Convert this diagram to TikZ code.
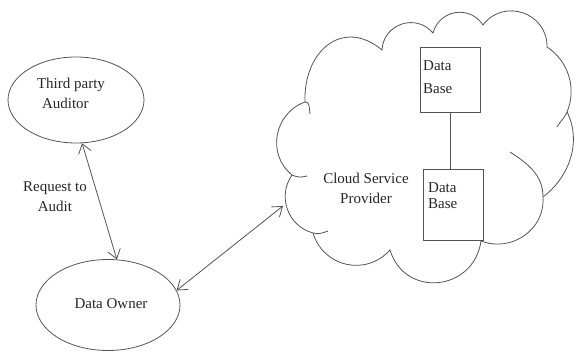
\documentclass[tikz,border=0pt]{standalone}
\usepackage{fontspec}
\setmainfont{Liberation Serif}
\usetikzlibrary{shapes.geometric,arrows.meta}
\definecolor{lc}{gray}{0.33}
\definecolor{tc}{gray}{0.15}
\tikzset{
  cl/.style={draw=lc, line width=0.8pt},
  ell/.style={ellipse, draw=lc, line width=0.8pt, inner sep=0pt},
  txt/.style={text=tc, font=\fontsize{15}{20}\selectfont, inner sep=0pt, align=center},
  dbox/.style={draw=lc, line width=0.8pt, minimum width=60pt, inner sep=0pt},
  dtxt/.style={text=tc, font=\fontsize{15}{20}\selectfont, inner sep=0pt, align=left, anchor=north west},
  arr/.style={draw=lc, line width=0.8pt, {Straight Barb[length=9pt,width=13pt]}-{Straight Barb[length=9pt,width=13pt]}}
}
\begin{document}
\begin{tikzpicture}[x=1pt,y=1pt]
\useasboundingbox (0,0) rectangle (576,352);
% ellipses
\node[ell, minimum width=136pt, minimum height=86pt] (aud) at (76,252) {};
\node[txt, align=left] (audt) at (71,259) {Third party\\\hspace*{5pt}Auditor};
\node[ell, minimum width=144pt, minimum height=91pt] (own) at (108,47) {};
\node[txt] (ownt) at (111,48) {Data Owner};
\node[txt] (req) at (55,155) {Request to\\Audit};
% cloud
\draw[cl] (292,177) coordinate (cA)
 to[out=141,in=200,looseness=1.14] (305,250) coordinate (cB)
 to[out=92,in=140,looseness=1.4] (382,302) coordinate (cC)
 to[out=87,in=130,looseness=1.25] (433,319) coordinate (cD)
 to[out=75,in=123,looseness=1.22] (483,327) coordinate (cE)
 to[out=53,in=89,looseness=1.3] (547,305) coordinate (cF)
 to[out=-33,in=67,looseness=0.96] (567,240) coordinate (cG)
 to[out=-63,in=37,looseness=0.96] (543,155) coordinate (cH)
 to[out=-86,in=-21,looseness=1.1] (481,111) coordinate (cI)
 to[out=262,in=287,looseness=1.42] (390,102) coordinate (cJ)
 to[out=228,in=287,looseness=1.16] (313,119) coordinate (cK)
 to[out=165,in=235,looseness=1.08] (cA);
\draw[cl] (510,200) coordinate (ci1) to[out=-33,in=90] (cH);
\draw[cl] (cB) to[out=10,in=100] (310,238) coordinate (tB);
\draw[cl] (cA) to[out=-25,in=195] (307,176) coordinate (tA);
\draw[cl] (cK) to[out=-15,in=200] (328,121) coordinate (tK);
\draw[cl] (cG) to[out=-113,in=60] (557,225) coordinate (tG);
\node[txt] (cst) at (366,164) {Cloud Service\\Provider};
% databases
\node[dbox, minimum height=65pt] (db1) at (450,272.5) {};
\node[dtxt] (db1t) at (423,292) {Data\\[3pt]Base};
\node[dbox, minimum height=71pt] (db2) at (453,147.5) {};
\node[dtxt, font=\fontsize{15}{16}\selectfont] (db2t) at (428,170) {Data\\Base};
\draw[cl] (db1.south) -- (db1.south |- db2.north);
% arrows
\coordinate (cin) at (283,146);
\draw[arr] (aud.-82) -- (own.79);
\draw[arr] (own.12) -- (cin);
\end{tikzpicture}
\end{document}
